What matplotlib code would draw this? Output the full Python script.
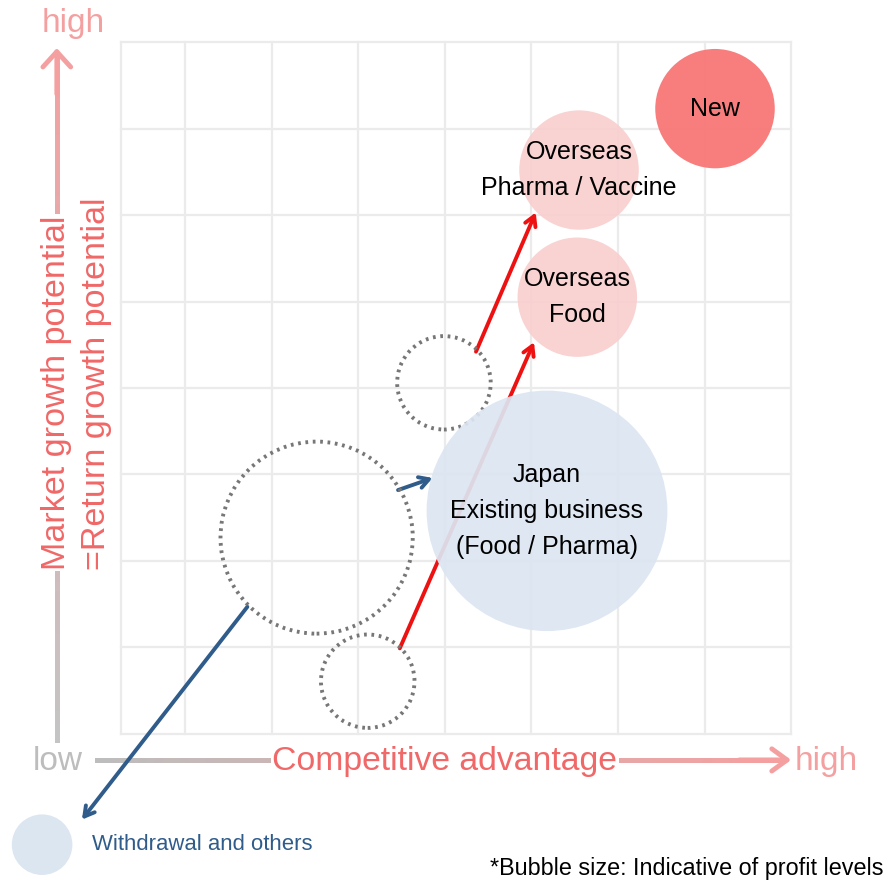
import matplotlib

matplotlib.use("Agg")
import matplotlib.pyplot as plt
import numpy as np
from matplotlib.patches import Circle
from matplotlib.collections import LineCollection

plt.rcParams["font.family"] = ["Liberation Sans", "DejaVu Sans"]

# bubbles in grid units (x: competitive advantage, y: growth potential)
bubble_labels = ["New", "Overseas\nPharma / Vaccine", "Overseas\nFood",
                 "Japan\nExisting business\n(Food / Pharma)"]
bubble_x = [7.12, 5.55, 5.53, 5.18]
bubble_y = [7.23, 6.52, 5.05, 2.58]
bubble_r = [0.69, 0.69, 0.69, 1.39]
bubble_colors = ["#F87474", "#F9CFCF", "#F9CFCF", "#DCE6F1"]

# dotted "before" bubbles
ghost_x = [3.99, 2.52, 3.11]
ghost_y = [4.06, 2.27, 0.61]
ghost_r = [0.54, 1.11, 0.54]

withdraw_x, withdraw_y, withdraw_r = -0.65, -1.28, 0.35

# moves (start -> end)
red_moves = [((3.48, 0.99), (5.03, 4.53)), ((4.36, 4.42), (5.05, 6.03))]
blue_moves = [((3.46, 2.82), (3.86, 2.96)), ((1.72, 1.47), (-0.19, -0.99))]

x_grid = [0.26, 1, 2, 3, 4, 5, 6, 7, 8]
y_grid = [0, 1, 2, 3, 4, 5, 6, 7, 8]

fig = plt.figure(figsize=(8.87, 8.83), dpi=100)
ax = fig.add_axes([0, 0, 1, 1])
ax.set_xlim(-1.136, 9.106)
ax.set_ylim(-1.723, 8.486)
ax.axis("off")

grid_c = "#EBEBEB"
for gx in x_grid:
    ax.plot([gx, gx], [y_grid[0], y_grid[-1]], color=grid_c, lw=1.6, zorder=1)
for gy in y_grid:
    ax.plot([x_grid[0], x_grid[-1]], [gy, gy], color=grid_c, lw=1.6, zorder=1)


def gradient_line(p0, p1, c0, c1, lw=3.5, n=80):
    t = np.linspace(0, 1, n + 1)
    xs = p0[0] + (p1[0] - p0[0]) * t
    ys = p0[1] + (p1[1] - p0[1]) * t
    segs = [[(xs[i], ys[i]), (xs[i + 1], ys[i + 1])] for i in range(n)]
    c0 = np.array(matplotlib.colors.to_rgb(c0))
    c1 = np.array(matplotlib.colors.to_rgb(c1))
    cols = [c0 + (c1 - c0) * (i / n) for i in range(n)]
    ax.add_collection(LineCollection(segs, colors=cols, linewidths=lw, zorder=2,
                                     capstyle="projecting", antialiased=False))


gray_c = "#C4C4C4"
pink_c = "#F4A0A0"
head = "->,head_length=1.1,head_width=1.0"
# vertical axis arrow
gradient_line((-0.48, -0.10), (-0.48, 7.85), gray_c, pink_c)
ax.annotate("", xy=(-0.48, 7.93), xytext=(-0.48, 7.4),
            arrowprops=dict(arrowstyle=head, color=pink_c, lw=3.5, shrinkA=0, shrinkB=0), zorder=3)
# horizontal axis arrow
gradient_line((-0.02, -0.30), (7.9, -0.30), "#BDBDBD", pink_c)
ax.annotate("", xy=(8.0, -0.30), xytext=(7.4, -0.30),
            arrowprops=dict(arrowstyle="->,head_length=1.1,head_width=0.8", color=pink_c,
                            lw=3.5, shrinkA=0, shrinkB=0), zorder=3)

ax.text(-0.29, 8.22, "high", color=pink_c, fontsize=24, ha="center", va="center", zorder=5)
ax.text(8.40, -0.32, "high", color=pink_c, fontsize=24, ha="center", va="center", zorder=5)
ax.text(-0.47, -0.32, "low", color="#BDBDBD", fontsize=24, ha="center", va="center",
        bbox=dict(fc="white", ec="none", pad=2), zorder=5)
ax.text(4.0, -0.32, "Competitive advantage", color="#F06868", fontsize=24.3, ha="center", va="center",
        bbox=dict(fc="white", ec="none", pad=1), zorder=5)
ax.text(-0.48, 1.90, "Market growth potential", color="#F06868", fontsize=24.6, rotation=90,
        ha="center", va="bottom", bbox=dict(fc="white", ec="none", pad=1), zorder=5)
ax.text(-0.02, 1.90, "=Return growth potential", color="#F06868", fontsize=24.6, rotation=90,
        ha="center", va="bottom", zorder=5)

# arrows under the bubbles
arrow_head = "->,head_length=0.7,head_width=0.4"
for (s, e) in red_moves:
    ax.annotate("", xy=e, xytext=s,
                arrowprops=dict(arrowstyle=arrow_head, color="#EE1111",
                                lw=2.8, shrinkA=0, shrinkB=0), zorder=3)
for (s, e) in blue_moves:
    ax.annotate("", xy=e, xytext=s,
                arrowprops=dict(arrowstyle=arrow_head, color="#2F5C8A",
                                lw=2.8, shrinkA=0, shrinkB=0), zorder=3)

for gx, gy, gr in zip(ghost_x, ghost_y, ghost_r):
    ax.add_patch(Circle((gx, gy), gr, fill=False, ec="#777777", lw=2.8,
                        linestyle=(0, (0.7, 1.2)), zorder=4))

for lab, bx, by, br, bc in zip(bubble_labels, bubble_x, bubble_y, bubble_r, bubble_colors):
    ax.add_patch(Circle((bx, by), br, fc=bc, ec="none", alpha=0.93, zorder=4))
    ax.text(bx, by, lab, ha="center", va="center", fontsize=18, color="black",
            linespacing=1.62, zorder=6)

ax.add_patch(Circle((withdraw_x, withdraw_y), withdraw_r, fc="#DCE6F1", ec="none", zorder=4))
ax.text(-0.07, -1.28, "Withdrawal and others", color="#2F5C8A", fontsize=15.9, ha="left", va="center")
ax.text(9.07, -1.55, "*Bubble size: Indicative of profit levels", color="black", fontsize=16.8,
        ha="right", va="center")

fig.savefig("out.png", dpi=100)
